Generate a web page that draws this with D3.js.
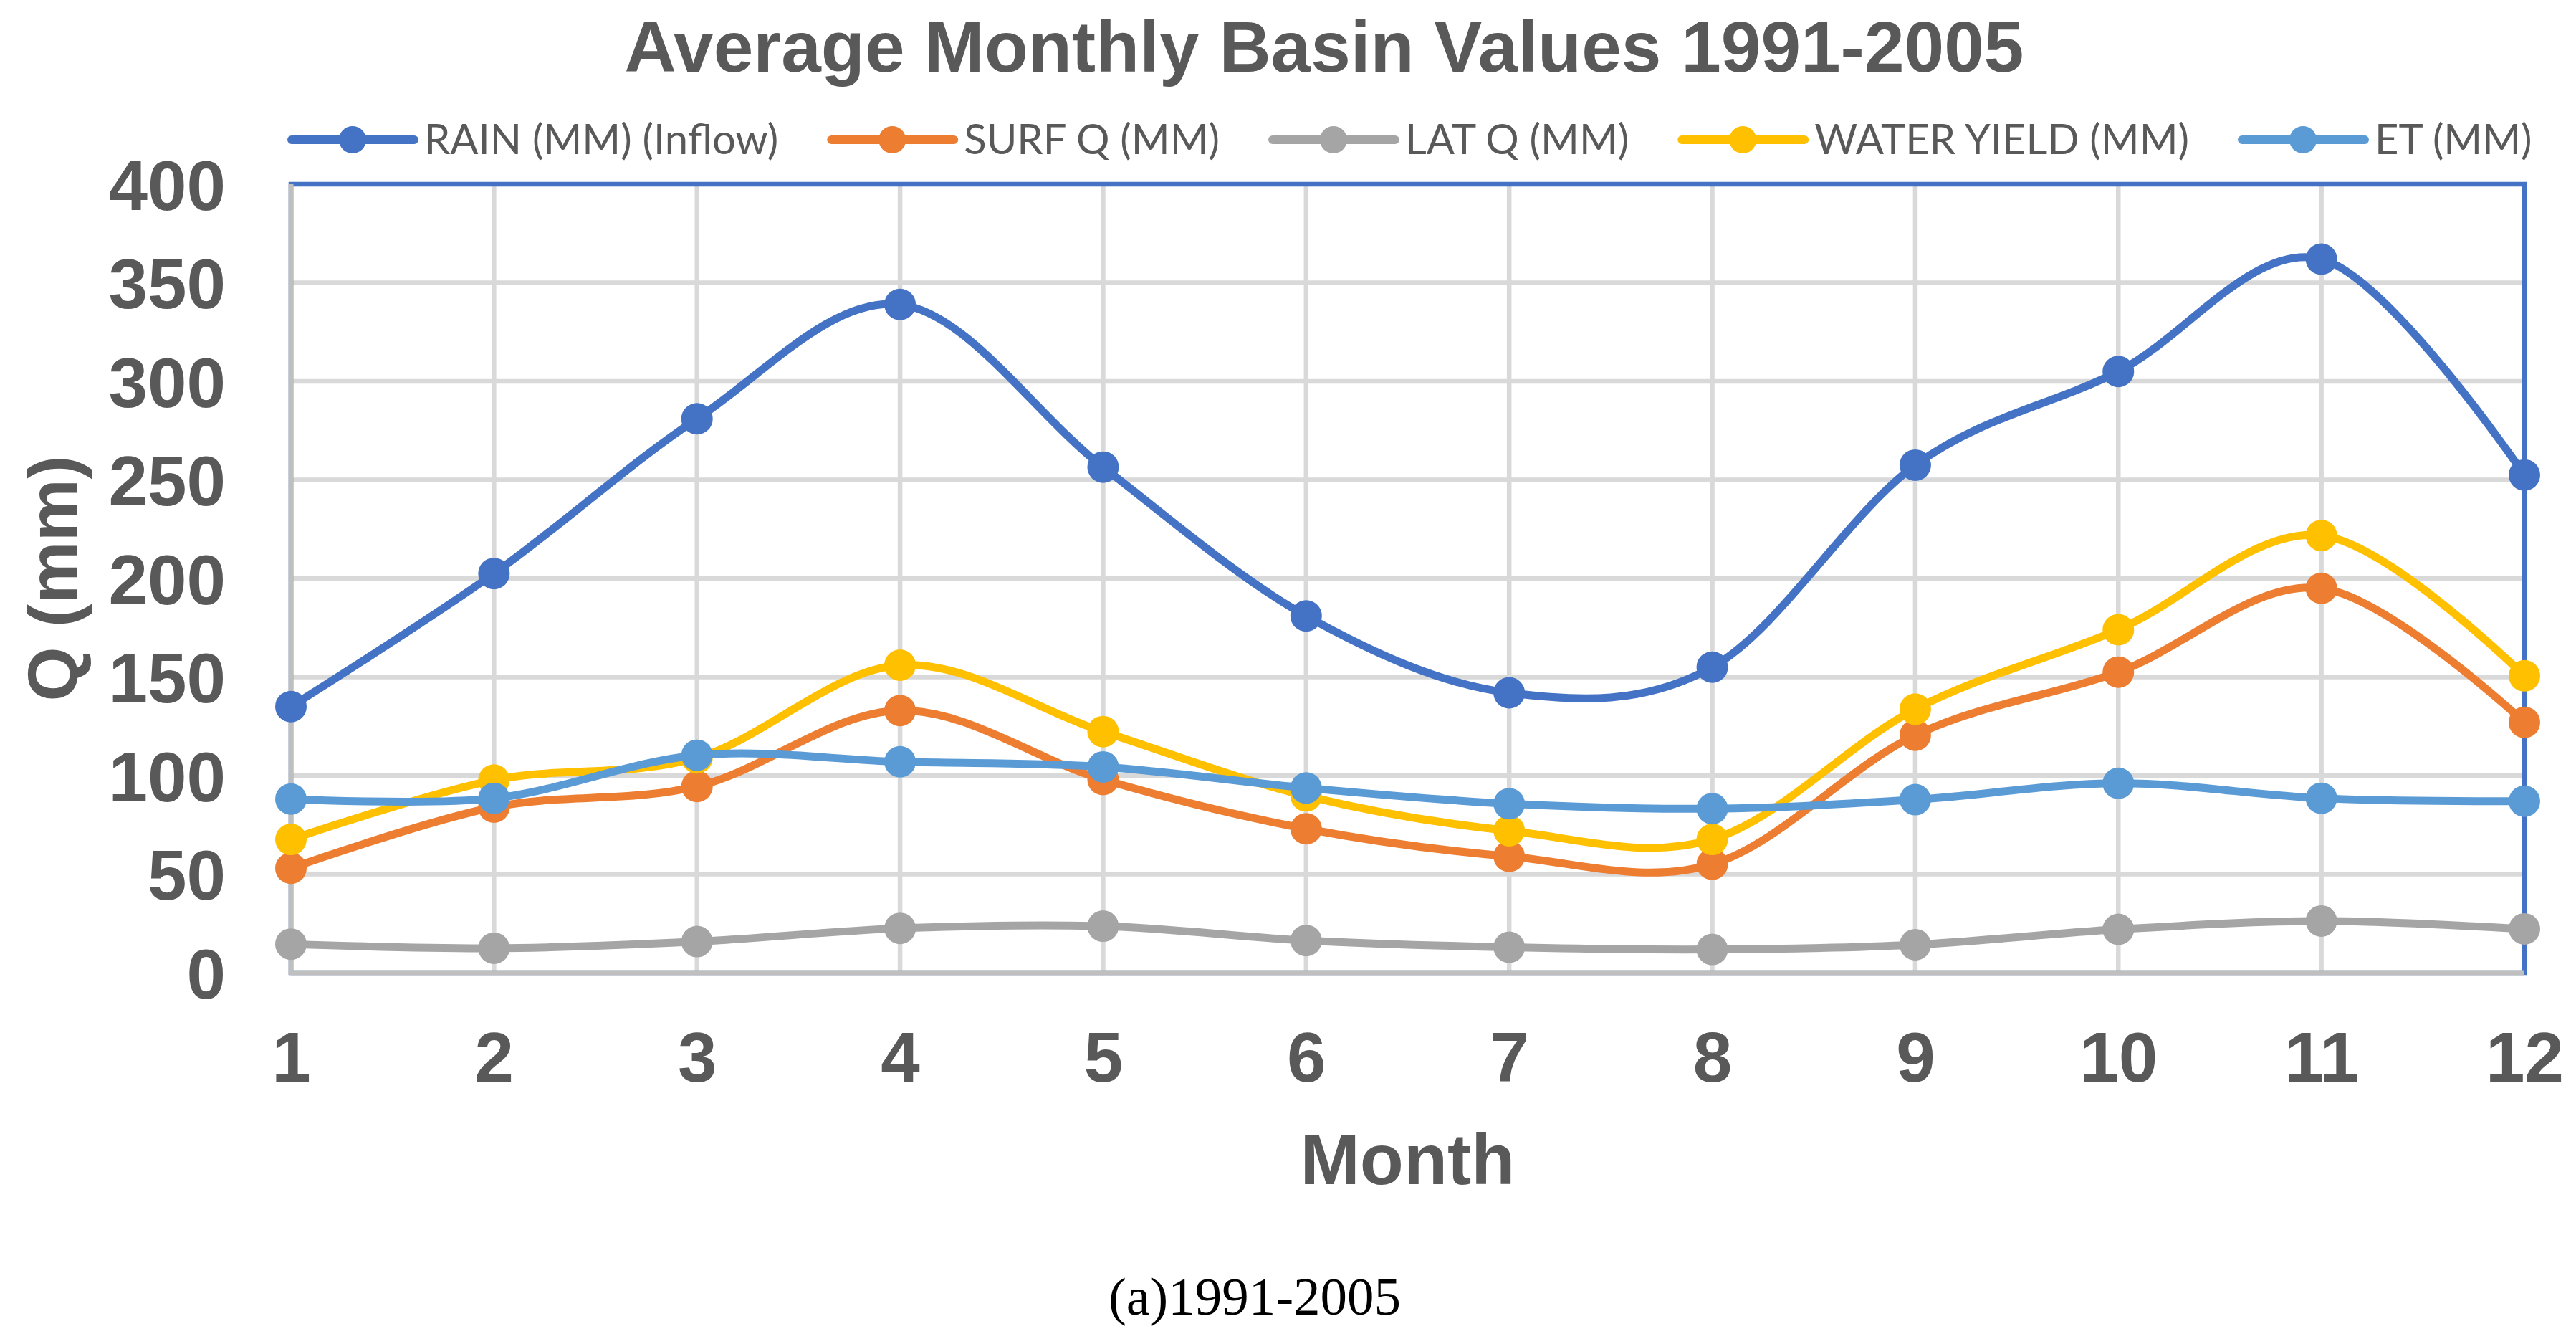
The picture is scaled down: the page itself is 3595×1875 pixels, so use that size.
<!DOCTYPE html>
<meta charset="utf-8">
<script src="https://d3js.org/d3.v7.min.js"></script>
<style>
  body { margin: 0; background: #fff; }
  text { fill: #595959; }
</style>
<svg id="chart" width="3595" height="1875"></svg>
<script>
// data
const months = [1, 2, 3, 4, 5, 6, 7, 8, 9, 10, 11, 12];
const rain = [135, 202.5, 281, 339, 256.5, 181, 142, 155, 257.5, 305, 362, 252.5];
const surfQ = [53, 84, 94.5, 133, 98, 73, 59, 55, 120.5, 152.5, 195, 127];
const latQ = [14.5, 12.4, 15.8, 22.5, 23.6, 16.3, 12.9, 11.8, 14.2, 22, 26.2, 22.2];
const waterYield = [67.6, 97.7, 109, 156, 122.3, 89.7, 72, 67.6, 133.7, 174, 221.8, 150.6];
const et = [88.1, 88.5, 110.3, 107, 104.4, 93.7, 85.7, 83.2, 87.8, 96.1, 88.5, 87];
const seriesNames = ["RAIN (MM) (Inflow)", "SURF Q (MM)", "LAT Q (MM)", "WATER YIELD (MM)", "ET (MM)"];
const seriesColors = ["#4472C4", "#ED7D31", "#A5A5A5", "#FFC000", "#5B9BD5"];
const yTicks = [0, 50, 100, 150, 200, 250, 300, 350, 400];

const series = [rain, surfQ, latQ, waterYield, et].map((vals, i) => ({
  name: seriesNames[i], color: seriesColors[i],
  values: vals.map((v, j) => ({ m: months[j], v: v }))
}));

const svg = d3.select("#chart");
const plotL = 406, plotR = 3523, plotT = 257, plotB = 1357;

const x = d3.scaleLinear().domain([1, 12]).range([plotL, plotR]);
const y = d3.scaleLinear().domain([0, 400]).range([plotB, plotT]);

// title
svg.append("text")
  .attr("x", 1848).attr("y", 100)
  .attr("text-anchor", "middle")
  .style("font-family", "'Liberation Sans', Arial, sans-serif")
  .style("font-weight", "bold")
  .style("font-size", "100px")
  .text("Average Monthly Basin Values 1991-2005");

// gridlines
svg.append("g").selectAll("line")
  .data(yTicks.filter(d => d > 0 && d < 400))
  .join("line")
  .attr("x1", plotL).attr("x2", plotR)
  .attr("y1", d => y(d)).attr("y2", d => y(d))
  .attr("stroke", "#D9D9D9").attr("stroke-width", 6.5);

svg.append("g").selectAll("line")
  .data(months.slice(1, 11))
  .join("line")
  .attr("x1", d => x(d)).attr("x2", d => x(d))
  .attr("y1", plotT).attr("y2", plotB)
  .attr("stroke", "#D9D9D9").attr("stroke-width", 6.5);

// plot border (blue) then gray axis lines
svg.append("rect")
  .attr("x", plotL).attr("y", plotT)
  .attr("width", plotR - plotL).attr("height", plotB - plotT)
  .attr("fill", "none").attr("stroke", "#4472C4").attr("stroke-width", 6.5);
svg.append("line")
  .attr("x1", plotL).attr("x2", plotL).attr("y1", plotT).attr("y2", plotB + 3)
  .attr("stroke", "#BFBFBF").attr("stroke-width", 7);
svg.append("line")
  .attr("x1", plotL).attr("x2", plotR).attr("y1", plotB).attr("y2", plotB)
  .attr("stroke", "#BFBFBF").attr("stroke-width", 7);

// y axis
const yAxis = svg.append("g")
  .attr("transform", `translate(${plotL},0)`)
  .call(d3.axisLeft(y).tickValues(yTicks).tickSize(0).tickPadding(91));
yAxis.select(".domain").remove();
yAxis.selectAll("text")
  .attr("dy", "0.36em")
  .style("font-family", "'Liberation Sans', Arial, sans-serif")
  .style("font-weight", "bold")
  .style("font-size", "98px")
  .style("fill", "#595959");

// x axis
const xAxis = svg.append("g")
  .attr("transform", `translate(0,${plotB})`)
  .call(d3.axisBottom(x).tickValues(months).tickFormat(d3.format("d")).tickSize(0));
xAxis.select(".domain").remove();
xAxis.selectAll("text")
  .attr("y", 152).attr("dy", 0)
  .style("font-family", "'Liberation Sans', Arial, sans-serif")
  .style("font-weight", "bold")
  .style("font-size", "98px")
  .style("fill", "#595959");

// axis titles
svg.append("text")
  .attr("transform", `translate(108,${(plotT + plotB) / 2}) rotate(-90)`)
  .attr("text-anchor", "middle")
  .style("font-family", "'Liberation Sans', Arial, sans-serif")
  .style("font-weight", "bold")
  .style("font-size", "98px")
  .text("Q (mm)");

svg.append("text")
  .attr("x", (plotL + plotR) / 2).attr("y", 1652)
  .attr("text-anchor", "middle")
  .style("font-family", "'Liberation Sans', Arial, sans-serif")
  .style("font-weight", "bold")
  .style("font-size", "100px")
  .text("Month");

// lines + markers, one series at a time
const line = d3.line()
  .x(d => x(d.m)).y(d => y(d.v))
  .curve(d3.curveCatmullRom.alpha(0));

series.forEach(s => {
  const g = svg.append("g");
  g.append("path")
    .datum(s.values)
    .attr("d", line)
    .attr("fill", "none")
    .attr("stroke", s.color)
    .attr("stroke-width", 11)
    .attr("stroke-linecap", "round");
  g.selectAll("circle")
    .data(s.values)
    .join("circle")
    .attr("cx", d => x(d.m)).attr("cy", d => y(d.v))
    .attr("r", 22)
    .attr("fill", s.color);
});

// legend, laid out left to right from the plot's left edge
const legend = svg.append("g").attr("transform", "translate(407,0)");
let cursor = 0;
series.forEach(s => {
  const item = legend.append("g").attr("transform", `translate(${cursor},0)`);
  item.append("line")
    .attr("x1", 0).attr("x2", 171).attr("y1", 195).attr("y2", 195)
    .attr("stroke", s.color).attr("stroke-width", 12).attr("stroke-linecap", "round");
  item.append("circle")
    .attr("cx", 85).attr("cy", 195).attr("r", 19)
    .attr("fill", s.color);
  const t = item.append("text")
    .attr("x", 185).attr("y", 215)
    .style("font-family", "Lato, 'Open Sans', sans-serif")
    .style("font-size", "58px")
    .text(s.name);
  cursor += 185 + t.node().getComputedTextLength() + 74;
});

// caption
svg.append("text")
  .attr("x", 1751).attr("y", 1834)
  .attr("text-anchor", "middle")
  .style("font-family", "'Liberation Serif', 'Times New Roman', serif")
  .style("font-size", "75px")
  .style("fill", "#000")
  .text("(a)1991-2005");
</script>
